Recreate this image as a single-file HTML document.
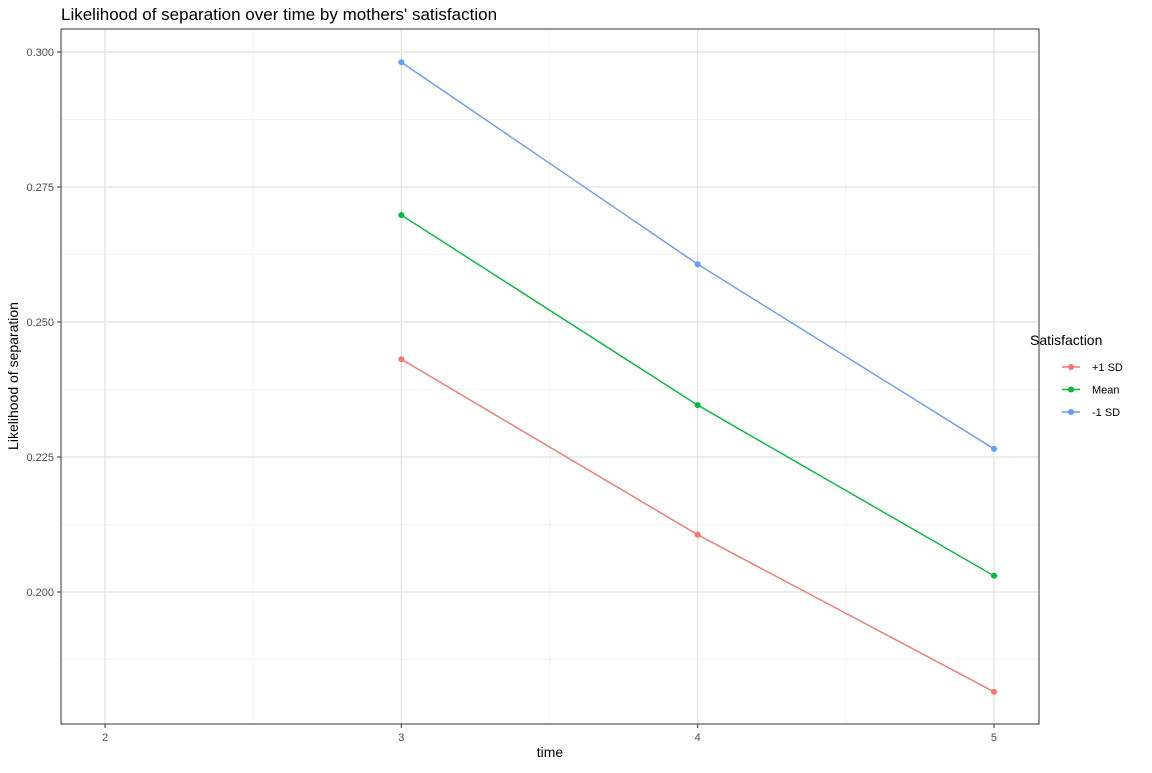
<!DOCTYPE html>
<html><head><meta charset="utf-8"><style>
body{margin:0;background:#fff;font-family:"Liberation Sans",Arial,sans-serif}
svg text{font-family:"Liberation Sans",Arial,sans-serif}
</style></head><body>
<svg id="chart" width="1152" height="768" xmlns="http://www.w3.org/2000/svg">
<rect width="1152" height="768" fill="#fff"/>
<text x="61" y="20" font-size="17" fill="#000">Likelihood of separation over time by mothers' satisfaction</text>
<g id="grid"></g>
<g id="marks"></g>
<rect x="61" y="29" width="978" height="695" fill="none" stroke="#333" stroke-width="1"/>
<g id="axes"></g>
<text x="550" y="757" font-size="14" text-anchor="middle">time</text>
<text transform="translate(18,376) rotate(-90)" font-size="14" text-anchor="middle">Likelihood of separation</text>
<g id="legend">
<text x="1030" y="345" font-size="14">Satisfaction</text>
</g>
</svg>
<script>
const times=[3,4,5];
const seriesNames=["+1 SD","Mean","-1 SD"];
const seriesColors=["#F8766D","#00BA38","#619CFF"];
const plusSD=[0.2431,0.2106,0.1815];
const meanVals=[0.2698,0.2346,0.2030];
const minusSD=[0.2981,0.2607,0.2265];
const xTicks=[2,3,4,5];
const yTicks=[0.200,0.225,0.250,0.275,0.300];
const yTickLabels=["0.200","0.225","0.250","0.275","0.300"];
const allSeries=[plusSD,meanVals,minusSD];
const NS="http://www.w3.org/2000/svg";
const X=v=>105+(v-2)*296.33;
const Y=v=>52+(0.300-v)*5400;
function mk(tag,attrs,parent){const e=document.createElementNS(NS,tag);for(const k in attrs)e.setAttribute(k,attrs[k]);parent.appendChild(e);return e;}
const grid=document.getElementById('grid'),axes=document.getElementById('axes'),marks=document.getElementById('marks'),legend=document.getElementById('legend');
// minor
for(let i=0;i<xTicks.length-1;i++){const x=X((xTicks[i]+xTicks[i+1])/2);const l=mk('line',{x1:x,x2:x,y1:29,y2:724,stroke:'#f0f0f0','stroke-width':0.8},grid);}
const ym=[0.1875,0.2125,0.2375,0.2625,0.2875];
ym.forEach(v=>{const y=Y(v);const l=mk('line',{x1:61,x2:1039,y1:y,y2:y,stroke:'#f0f0f0','stroke-width':0.8},grid);});
xTicks.forEach(v=>{const x=X(v);const l=mk('line',{x1:x,x2:x,y1:29,y2:724,stroke:'#e5e5e5','stroke-width':1.4},grid);
const t=mk('line',{x1:x,x2:x,y1:724,y2:728,stroke:'#333'},axes);
const tx=mk('text',{x:x,y:741,'font-size':11,'text-anchor':'middle',fill:'#4d4d4d'},axes);tx.textContent=v;});
yTicks.forEach((v,i)=>{const y=Y(v);const l=mk('line',{x1:61,x2:1039,y1:y,y2:y,stroke:'#e5e5e5','stroke-width':1.4},grid);
const t=mk('line',{x1:57,x2:61,y1:y,y2:y,stroke:'#333'},axes);
const tx=mk('text',{x:54,y:y+4,'font-size':11,'text-anchor':'end',fill:'#4d4d4d'},axes);tx.textContent=yTickLabels[i];});
allSeries.forEach((s,si)=>{const pts=s.map((v,i)=>X(times[i])+','+Y(v)).join(' ');
const pl=mk('polyline',{points:pts,fill:'none',stroke:seriesColors[si],'stroke-width':1.4},marks);
s.forEach((v,i)=>{const c=mk('circle',{cx:X(times[i]),cy:Y(v),r:3,fill:seriesColors[si]},marks);});
const ly=367+si*22.5;
const ll=mk('line',{x1:1062,x2:1080,y1:ly,y2:ly,stroke:seriesColors[si],'stroke-width':1.4},legend);
const lc=mk('circle',{cx:1071,cy:ly,r:3,fill:seriesColors[si]},legend);
const lt=mk('text',{x:1092,y:ly+4,'font-size':11},legend);lt.textContent=seriesNames[si];});
</script>
</body></html>
